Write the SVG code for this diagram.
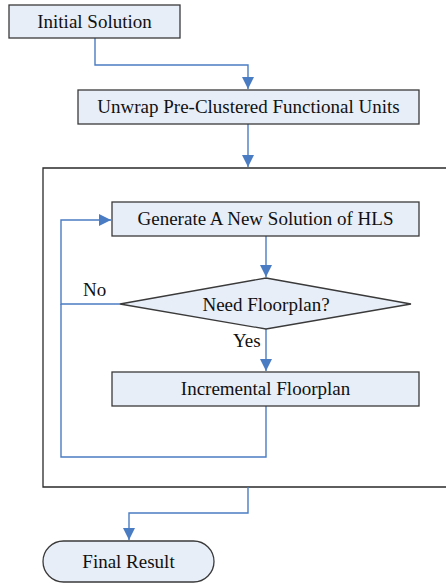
<svg xmlns="http://www.w3.org/2000/svg" width="446" height="584" viewBox="0 0 446 584">
  <style>
    .box { fill: #e8eef8; stroke: #3a3a3a; stroke-width: 1.3; }
    .frame { fill: none; stroke: #2a2a2a; stroke-width: 1.3; }
    text { font-family: 'Liberation Serif', 'Times New Roman', 'DejaVu Serif', serif; font-size: 19px; fill: #111; }
    .mid { text-anchor: middle; }
    .wire { fill: none; stroke: #4a7cc4; stroke-width: 1.4; }
  </style>
  <defs>
    <marker id="arrow" viewBox="0 0 12 12" refX="12" refY="6" markerWidth="12" markerHeight="12" markerUnits="userSpaceOnUse" orient="auto">
      <path d="M0,0 L12,6 L0,12 Z" fill="#4a7cc4"/>
    </marker>
  </defs>

  <rect width="446" height="584" fill="#ffffff"/>

  <!-- outer iteration frame (open at the right edge) -->
  <g id="loop-frame">
    <path class="frame" d="M447,168 H43 V487 H447"/>
  </g>

  <g id="connectors">
    <path class="wire" d="M95,38 V65 H248 V89" marker-end="url(#arrow)"/>
    <path class="wire" d="M248,124 V167" marker-end="url(#arrow)"/>
    <path class="wire" d="M266,236 V277" marker-end="url(#arrow)"/>
    <path class="wire" d="M120,304 H61 V220 H111" marker-end="url(#arrow)"/>
    <path class="wire" d="M266,329 V371" marker-end="url(#arrow)"/>
    <path class="wire" d="M266,406 V457 H61 V304"/>
    <path class="wire" d="M248,487 V513 H129 V540" marker-end="url(#arrow)"/>
  </g>

  <g id="initial">
    <rect class="box" x="9" y="5" width="171" height="33"/>
    <text class="mid" x="94.5" y="28" font-family="Liberation Serif, serif">Initial Solution</text>
  </g>

  <g id="unwrap">
    <rect class="box" x="78" y="90" width="341" height="34"/>
    <text class="mid" x="248.5" y="113" font-family="Liberation Serif, serif">Unwrap Pre-Clustered Functional Units</text>
  </g>

  <g id="generate">
    <rect class="box" x="112" y="202" width="307" height="34"/>
    <text class="mid" x="265.5" y="225" font-family="Liberation Serif, serif">Generate A New Solution of HLS</text>
  </g>

  <g id="decision">
    <polygon class="box" points="266,278 411,304 266,329 120,304"/>
    <text class="mid" x="266" y="311" font-family="Liberation Serif, serif">Need Floorplan?</text>
  </g>

  <g id="floorplan">
    <rect class="box" x="112" y="372" width="307" height="34"/>
    <text class="mid" x="265.5" y="395" font-family="Liberation Serif, serif">Incremental Floorplan</text>
  </g>

  <g id="result">
    <rect class="box" x="43" y="541" width="171" height="41" rx="20.5" ry="20.5"/>
    <text class="mid" x="128.5" y="568" font-family="Liberation Serif, serif">Final Result</text>
  </g>

  <g id="branch-labels">
    <text x="83" y="296" font-family="Liberation Serif, serif">No</text>
    <text x="233" y="347" font-family="Liberation Serif, serif">Yes</text>
  </g>
</svg>
